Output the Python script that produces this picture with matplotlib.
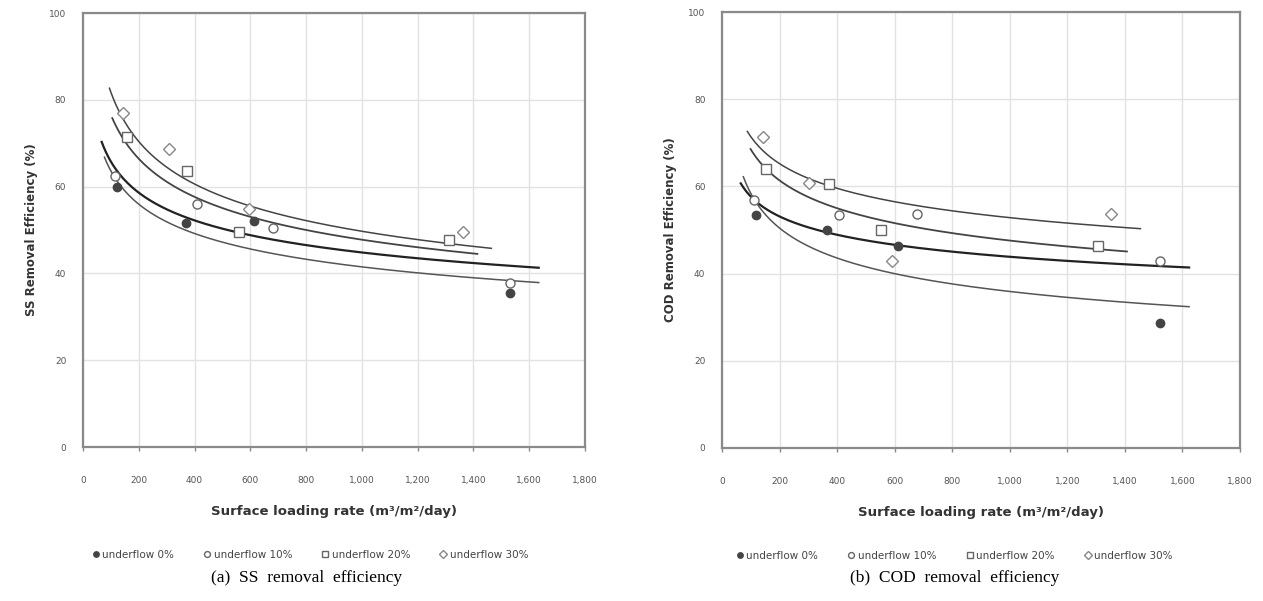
import numpy as np
import matplotlib
matplotlib.use('Agg')
from matplotlib import pyplot as plt

series_names = ['underflow 0%', 'underflow 10%', 'underflow 20%', 'underflow 30%']

# (a) SS removal efficiency - measured points
ss_x = [[123, 369, 614, 1532],
        [116, 410, 681, 1532],
        [159, 374, 559, 1312],
        [145, 308, 594, 1362]]
ss_y = [[60.0, 51.6, 52.0, 35.4],
        [62.5, 56.0, 50.5, 37.8],
        [71.5, 63.6, 49.5, 47.7],
        [77.0, 68.6, 54.8, 49.6]]

# (b) COD removal efficiency - measured points
cod_x = [[117, 366, 610, 1523],
         [110, 407, 676, 1523],
         [152, 370, 552, 1306],
         [142, 303, 590, 1352]]
cod_y = [[53.5, 50.0, 46.4, 28.7],
         [56.9, 53.5, 53.6, 42.8],
         [64.1, 60.5, 50.0, 46.4],
         [71.4, 60.7, 42.9, 53.6]]

# power trend lines y = a * x^b, with their x range
ss_trend_a = [141.6, 149.5, 196.6, 221.2]
ss_trend_b = [-0.1665, -0.1855, -0.2048, -0.2161]
ss_trend_x0 = [67, 77, 105, 95]
ss_trend_x1 = [1634, 1634, 1414, 1464]

cod_trend_a = [99.7, 154.4, 141.8, 130.4]
cod_trend_b = [-0.1189, -0.2112, -0.1581, -0.1308]
cod_trend_x0 = [65, 74, 99, 88]
cod_trend_x1 = [1623, 1623, 1407, 1454]

x_ticks = list(range(0, 1801, 200))
x_tick_labels = ['0', '200', '400', '600', '800', '1,000', '1,200', '1,400', '1,600', '1,800']
y_ticks = [0, 20, 40, 60, 80, 100]

markers = ['o', 'o', 's', 'D']
faces = ['#444444', 'white', 'white', 'white']
edges = ['#444444', '#666666', '#666666', '#888888']
msizes = [6, 6.5, 7, 6]
line_colors = ['#222222', '#555555', '#444444', '#444444']
line_widths = [1.6, 1.1, 1.3, 1.1]


def draw_panel(ax, xs, ys, ta, tb, tx0, tx1, ylabel, leg_x):
    for i in range(4):
        xx = np.linspace(tx0[i], tx1[i], 200)
        ax.plot(xx, ta[i] * xx ** tb[i], color=line_colors[i], lw=line_widths[i], zorder=2)
    for i in range(4):
        ax.plot(xs[i], ys[i], linestyle='none', marker=markers[i], ms=msizes[i],
                mfc=faces[i], mec=edges[i], mew=1.0, label=series_names[i], zorder=3)
    ax.set_xlim(0, 1800)
    ax.set_ylim(0, 100)
    ax.set_xticks(x_ticks)
    ax.set_xticklabels(x_tick_labels)
    ax.set_yticks(y_ticks)
    ax.grid(True, color='#e2e2e2', lw=1.0)
    ax.set_axisbelow(True)
    for s in ax.spines.values():
        s.set_color('#8a8a8a')
        s.set_linewidth(1.6)
    ax.tick_params(axis='x', length=3, width=1, color='#8a8a8a', pad=18,
                   labelsize=6.5, labelcolor='#555555')
    ax.tick_params(axis='y', length=0, pad=12, labelsize=6.5, labelcolor='#555555')
    ax.set_xlabel('Surface loading rate (m³/m²/day)', fontsize=9.5, fontweight='bold',
                  color='#333333', labelpad=14)
    ax.set_ylabel(ylabel, fontsize=8.5, fontweight='bold', color='#333333', labelpad=8)
    ax.legend(loc='upper center', bbox_to_anchor=(leg_x, -0.215), ncol=4, frameon=False,
              fontsize=7.5, handletextpad=0.0, columnspacing=2.6, markerscale=0.65,
              handlelength=1.2, labelcolor='#444444')


fig = plt.figure(figsize=(12.63, 6.01), dpi=100)
ax1 = fig.add_axes([0.0657, 0.2562, 0.3975, 0.7221])
ax2 = fig.add_axes([0.5717, 0.2546, 0.4101, 0.7254])

draw_panel(ax1, ss_x, ss_y, ss_trend_a, ss_trend_b, ss_trend_x0, ss_trend_x1,
           'SS Removal Efficiency (%)', 0.45)
draw_panel(ax2, cod_x, cod_y, cod_trend_a, cod_trend_b, cod_trend_x0, cod_trend_x1,
           'COD Removal Efficiency (%)', 0.446)

fig.text(307 / 1263, 1 - 578 / 601, '(a)  SS  removal  efficiency', ha='center', va='center',
         fontsize=12.5, family='Liberation Serif')
fig.text(955 / 1263, 1 - 578 / 601, '(b)  COD  removal  efficiency', ha='center', va='center',
         fontsize=12.5, family='Liberation Serif')

fig.savefig('out.png', dpi=100)
